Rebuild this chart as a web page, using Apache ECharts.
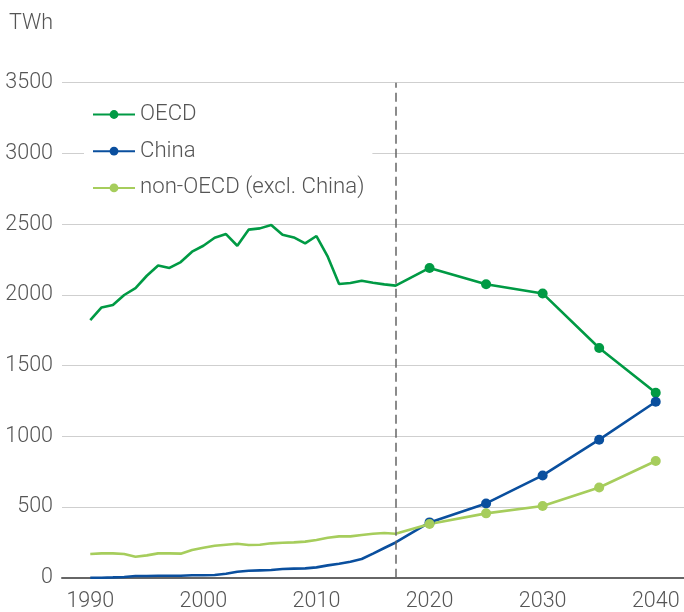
<!DOCTYPE html>
<html>
<head>
<meta charset="utf-8">
<script src="https://cdn.jsdelivr.net/npm/echarts@6/dist/echarts.min.js"></script>
<style>
html,body{margin:0;padding:0;background:#fff;}
#chart{width:684px;height:612px;}
</style>
</head>
<body>
<div id="chart"></div>
<script>
const years = [1990,1991,1992,1993,1994,1995,1996,1997,1998,1999,2000,2001,2002,2003,2004,2005,2006,2007,2008,2009,2010,2011,2012,2013,2014,2015,2016,2017,2020,2025,2030,2035,2040];
const oecd = [1822,1911,1928,1999,2048,2135,2208,2190,2232,2305,2347,2404,2430,2347,2461,2470,2494,2425,2406,2364,2416,2270,2077,2084,2100,2086,2074,2065,2190,2075,2010,1624,1308];
const china = [0,0,2,5,12,12,14,14,14,17,17,19,28,42,49,52,54,61,64,66,73,87,99,113,132,170,210,249,391,525,723,976,1244];
const nonOecd = [168,172,172,168,148,158,172,172,170,196,212,226,233,240,231,233,243,247,250,255,267,283,292,292,302,311,316,311,380,455,507,638,825];
const projectionYears = [2020,2025,2030,2035,2040];
const xTickLabels = [1990,2000,2010,2020,2030,2040];
const seriesNames = ['OECD','China','non-OECD (excl. China)'];
const colors = ['#009a44','#0a4f9e','#a6cd5c'];
const lastHistoricYear = 2017;

function build(vals){
  return years.map((y,i)=>{
    const item = {value:[y, vals[i]]};
    if (projectionYears.indexOf(y) < 0) item.symbol = 'none';
    return item;
  });
}

const font = 'Roboto, "Liberation Sans", sans-serif';
const fs = 21.5;
const txt = '#555';

const chart = echarts.init(document.getElementById('chart'));
const mk = (name, vals, color, extra) => Object.assign({
  name: name, type: 'line', data: build(vals),
  symbol: 'circle', symbolSize: 10, showSymbol: true,
  lineStyle: {color: color, width: 2.6},
  itemStyle: {color: color},
  emphasis: {disabled: true},
  animation: false
}, extra || {});

chart.setOption({
  animation: false,
  color: colors,
  title: {
    text: 'TWh', left: 4, top: 8,
    textStyle: {fontFamily: font, fontSize: fs, fontWeight: 300, color: txt}
  },
  grid: {left: 62, right: 0, top: 82.7, bottom: 34.3, containLabel: false, outerBoundsMode: 'none'},
  legend: {
    orient: 'vertical', left: 84, top: 93.5,
    padding: [10, 8, 8, 8],
    backgroundColor: '#fff',
    itemWidth: 42, itemHeight: 11, itemGap: 14.7,
    textStyle: {fontFamily: font, fontSize: 22.2, fontWeight: 300, color: txt},
    data: seriesNames
  },
  xAxis: {
    type: 'value', min: 1987.5, max: 2042.5,
    axisLine: {show: true, onZero: true, lineStyle: {color: '#666', width: 2}},
    axisTick: {show: false},
    splitLine: {show: false},
    axisLabel: {
      customValues: xTickLabels,
      margin: 13,
      fontFamily: font, fontSize: fs, fontWeight: 300, color: txt,
      formatter: v => String(v)
    }
  },
  yAxis: {
    type: 'value', min: 0, max: 3500, interval: 500,
    axisLine: {show: false}, axisTick: {show: false},
    splitLine: {lineStyle: {color: '#cfcfcf', width: 1}},
    axisLabel: {margin: 9, fontFamily: font, fontSize: fs, fontWeight: 300, color: txt,
      formatter: v => String(v)}
  },
  series: [
    mk(seriesNames[0], oecd, colors[0], {
      markLine: {
        silent: true, symbol: 'none', label: {show: false},
        lineStyle: {color: '#666', type: [9, 5], width: 1.5},
        data: [{xAxis: lastHistoricYear}]
      }
    }),
    mk(seriesNames[1], china, colors[1]),
    mk(seriesNames[2], nonOecd, colors[2])
  ]
});
</script>
</body>
</html>
